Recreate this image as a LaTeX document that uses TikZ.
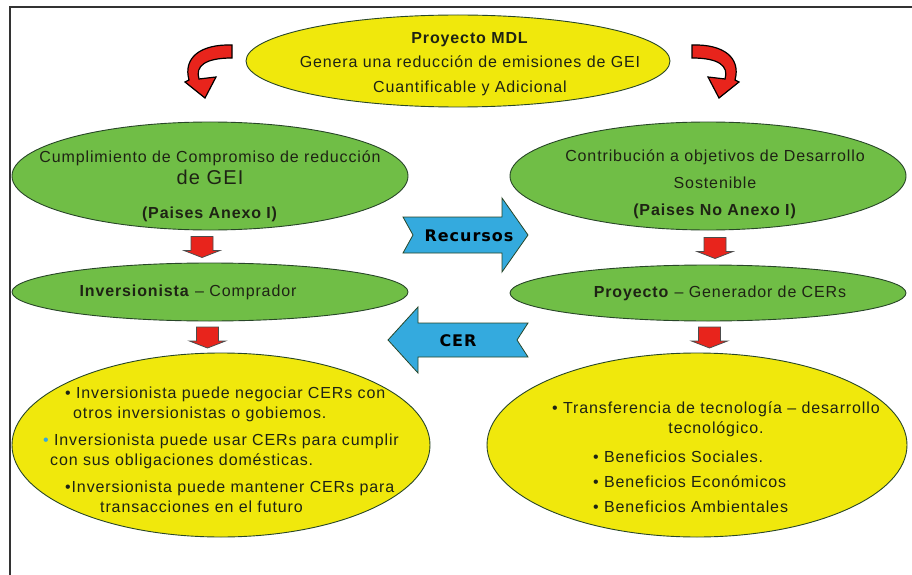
\documentclass[tikz,border=0pt]{standalone}
\usepackage{fontspec}
\setmainfont{Liberation Sans}[LetterSpace=5.5]
\newfontfamily\arrowfont{DejaVu Sans}[LetterSpace=6]
\usetikzlibrary{shapes.geometric,calc}
\definecolor{mdlyellow}{RGB}{240,232,12}
\definecolor{mdlgreen}{RGB}{112,190,70}
\definecolor{mdlblue}{RGB}{52,170,222}
\definecolor{mdlred}{RGB}{232,36,28}
\definecolor{mdltext}{RGB}{30,35,20}
\definecolor{mdlline}{RGB}{40,70,40}

\tikzset{
  ellbox/.style={ellipse,draw=mdlline,line width=0.9pt,inner sep=0pt},
  yellowell/.style={ellbox,fill=mdlyellow},
  greenell/.style={ellbox,fill=mdlgreen},
  elltxt/.style={align=center,inner sep=0pt,text=mdltext,font=\fontsize{16}{20}\selectfont},
  bultxt/.style={align=left,anchor=north west,inner sep=0pt,text=mdltext,font=\fontsize{16}{20}\selectfont},
  blockarr/.style={fill=mdlblue,draw=mdlline,line width=0.8pt},
  arrtxt/.style={inner sep=0pt,font=\arrowfont\bfseries\fontsize{16}{18}\selectfont},
  downarr/.pic={\filldraw[fill=mdlred,draw=black!70,line width=0.8pt]
    (-11,-10) -- (11,-10) -- (11,4) -- (18,4) -- (0,11) -- (-18,4) -- (-11,4) -- cycle;},
  curvarr/.pic={\filldraw[fill=mdlred,draw=black,line width=1.2pt]
    (232,45) .. controls (200,44) and (183,58) .. (189,80) -- (185,82) -- (205,98)
    -- (216,77) -- (199,79) .. controls (195,66) and (205,58) .. (232,58) -- cycle;}
}

\begin{document}
\begin{tikzpicture}[x=1pt,y=-1pt]
    \useasboundingbox[fill=white] (0,0) rectangle (912,575);
    % frame
    \draw[line width=1.6pt,black!80] (10,575) -- (10,7) -- (912,7);
    % top ellipse
    \node[yellowell,minimum width=424,minimum height=92] (mdl) at (458,61) {};
    \node[elltxt,font=\fontsize{16}{24.5}\selectfont,xshift=12pt,yshift=-3pt] (mdltxt) at (mdl)
        {\textbf{Proyecto MDL}\\Genera una reducción de emisiones de GEI\\Cuantificable y Adicional};
    % curved arrows
    \pic at (0,0) {curvarr};
    \pic[xscale=-1] at (924,0) {curvarr};
    % green ellipses
    \node[greenell,minimum width=396,minimum height=108] (cumpl) at (210,176) {};
    \node[elltxt,yshift=-10pt] (cumpltxt) at (cumpl)
        {Cumplimiento de Compromiso de reducción\\[2pt]{\fontsize{20}{22}\selectfont de GEI}\hspace*{20pt}\\[14pt]\textbf{(Paises Anexo I)}};
    \node[greenell,minimum width=396,minimum height=108] (contrib) at (708,176) {};
    \node[elltxt,font=\fontsize{16}{27}\selectfont,xshift=7pt,yshift=-8pt] (contribtxt) at (contrib)
        {Contribución a objetivos de Desarrollo\\Sostenible\\\textbf{(Paises No Anexo I)}};
    \node[greenell,minimum width=396,minimum height=58] (inver) at (210,292) {};
    \node[elltxt,xshift=-22pt] (invertxt) at (inver) {\textbf{Inversionista} -- Comprador};
    \node[greenell,minimum width=396,minimum height=56] (proy) at (708,293) {};
    \node[elltxt,xshift=12pt] (proytxt) at (proy) {\textbf{Proyecto} -- Generador de CERs};
    % yellow ellipses
    \node[yellowell,minimum width=418,minimum height=184] (usos) at (221,445) {};
    \node[yellowell,minimum width=420,minimum height=184] (benef) at (697,445) {};
    \node[bultxt] (usos1) at (65,387)
        {• Inversionista puede negociar CERs con\\\hspace*{8pt}otros inversionistas o gobiemos.};
    \node[bultxt] (usos2) at (43,434)
        {{\color{mdlblue}•} Inversionista puede usar CERs para cumplir\\\hspace*{7pt}con sus obligaciones domésticas.};
    \node[bultxt] (usos3) at (65,481)
        {•Inversionista puede mantener CERs para\\\hspace*{35pt}transacciones en el futuro};
    \node[elltxt] (benef1) at (716,419)
        {• Transferencia de tecnología -- desarrollo\\tecnológico.};
    \node[bultxt,font=\fontsize{16}{25}\selectfont] (benef2) at (593,451)
        {• Beneficios Sociales.\\• Beneficios Económicos\\• Beneficios Ambientales};
    % red block arrows
    \pic at ($(cumpl.south)!0.5!(inver.north)+(-8,0)$) {downarr};
    \pic at ($(inver.south)!0.5!(usos.north)+(-8,0)$) {downarr};
    \pic at ($(contrib.south)!0.5!(proy.north)+(7,0)$) {downarr};
    \pic at ($(proy.south)!0.5!(benef.north)+(7,0)$) {downarr};
    % blue arrows
    \filldraw[blockarr] (403,217) -- (502,217) -- (502,198) -- (528,235) -- (502,272)
        -- (502,253) -- (403,253) -- (413,235) -- cycle;
    \node[arrtxt] (recursos) at (469,236) {Recursos};
    \filldraw[blockarr] (388,340) -- (418,307) -- (418,323) -- (528,323) -- (517,340)
        -- (528,357) -- (418,357) -- (418,373) -- cycle;
    \node[arrtxt] (cer) at (458,341) {CER};
\end{tikzpicture}
\end{document}
